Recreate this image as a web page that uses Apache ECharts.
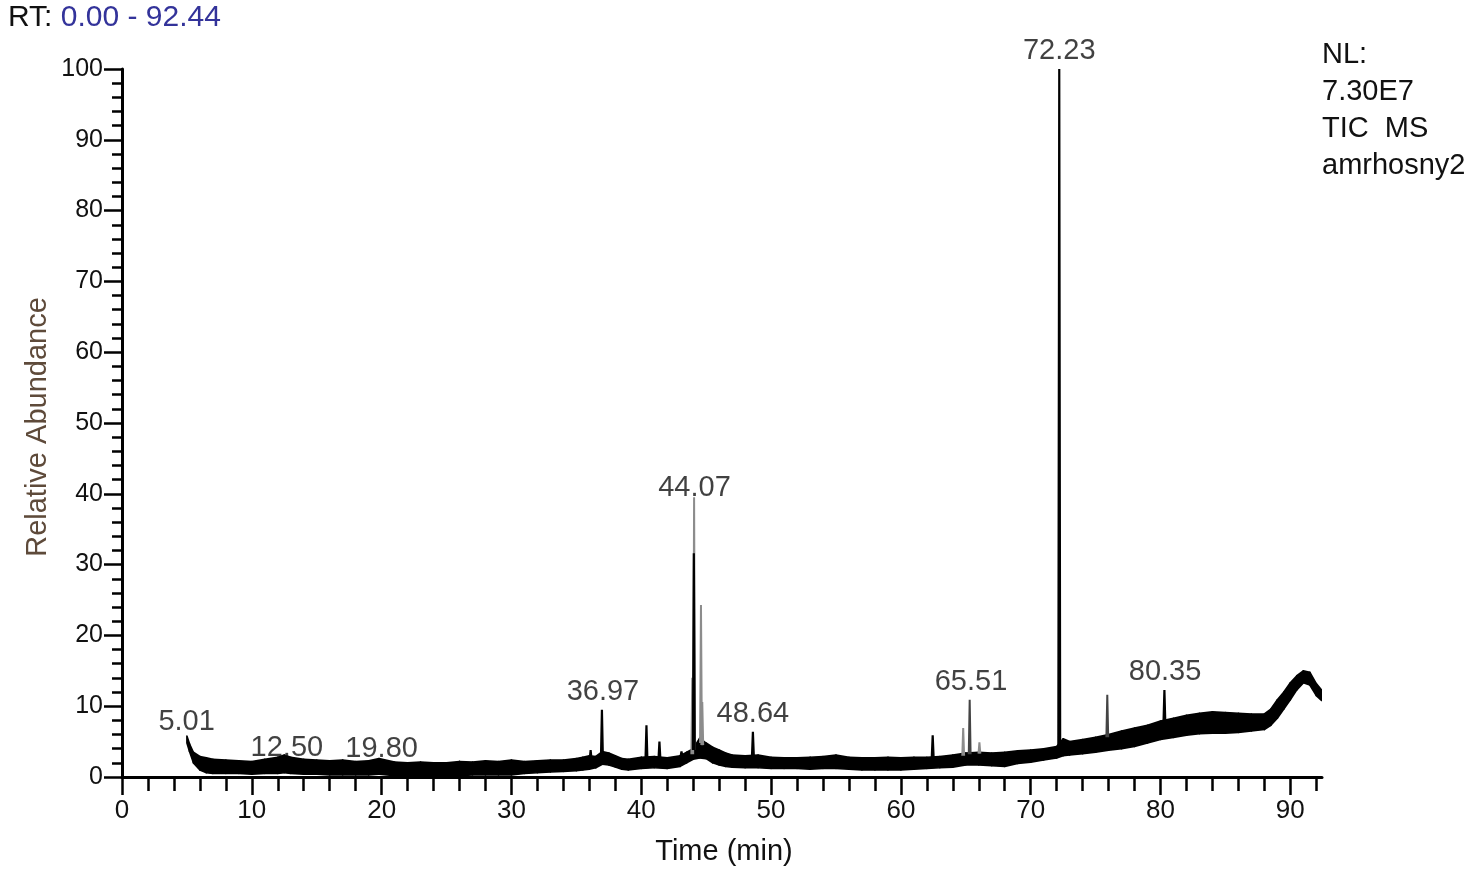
<!DOCTYPE html>
<html>
<head>
<meta charset="utf-8">
<script src="https://cdn.jsdelivr.net/npm/echarts@6/dist/echarts.min.js"></script>
<style>html,body{margin:0;padding:0;background:#fff}#c{width:1477px;height:876px}</style>
</head>
<body>
<div id="c"></div>
<script>
// ---- Data ----
// Baseline noise band (time in min, lower and upper edge of the black trace band, % relative abundance)
const bandTime = [5.0,5.2,5.5,6,6.5,7,8,9,10,11,12,12.5,13,14,15,16,17,18,19,19.8,
  21,22,23,24,25,26,27,28,29,30,31,32,33,34,35,35.5,36,36.5,37,37.5,
  38,38.5,39,40,41,42,43,43.5,44,44.5,45,45.5,46,46.5,47,48,49,50,51,52,
  53,54,55,56,57,58,59,60,61,62,63,64,65,66,67,68,69,70,71,72,
  72.5,73,74,75,76,77,78,79,80,81,82,83,84,85,86,87,88,88.5,89,89.5,
  90,90.5,91,91.5,92,92.4];
const bandLow = [4.8,3.6,2.0,1.0,0.6,0.5,0.5,0.5,0.4,0.5,0.5,0.6,0.5,0.4,0.4,0.3,0.3,0.3,0.3,0.4,
  0.2,0.2,0.2,0.2,0.2,0.2,0.3,0.3,0.3,0.3,0.5,0.6,0.7,0.8,0.9,1.0,1.1,1.3,1.8,1.7,
  1.4,1.1,1.0,1.2,1.3,1.2,1.5,2.0,2.5,2.7,2.6,2.0,1.7,1.5,1.4,1.3,1.3,1.2,1.2,1.2,
  1.1,1.2,1.2,1.1,1.0,1.0,1.0,1.0,1.1,1.2,1.3,1.4,1.7,1.7,1.6,1.5,1.9,2.1,2.4,2.7,
  3.0,3.1,3.3,3.5,3.8,4.0,4.3,4.8,5.3,5.6,5.9,6.1,6.2,6.2,6.3,6.5,6.7,7.3,8.3,9.6,
  10.9,12.3,13.3,13.0,11.5,10.8];
const bandHigh = [5.8,4.7,3.5,2.9,2.7,2.5,2.4,2.3,2.2,2.5,2.8,3.1,2.8,2.5,2.4,2.3,2.4,2.2,2.3,2.6,
  2.1,2.0,2.1,2.0,2.0,2.2,2.1,2.3,2.2,2.4,2.2,2.3,2.4,2.4,2.6,2.8,3.0,2.9,3.6,3.4,
  3.0,2.6,2.5,2.8,2.9,2.7,3.0,3.5,4.0,5.5,4.8,4.2,3.8,3.4,3.1,3.0,3.1,2.8,2.7,2.7,
  2.8,2.9,3.1,2.8,2.7,2.7,2.8,2.7,2.8,2.8,2.9,3.1,3.4,3.5,3.4,3.5,3.7,3.8,4.0,4.3,
  5.4,5.0,5.3,5.6,6.0,6.5,6.9,7.3,7.9,8.3,8.7,9.0,9.2,9.1,9.0,8.9,8.9,9.6,10.9,12.0,
  13.3,14.3,15.0,14.8,13.2,12.3];

// Sharp peaks: apex time, apex height, height at foot
const blackPeakTime = [36.1, 36.97, 40.4, 41.4, 43.1, 44.05, 48.6, 62.45, 72.2, 80.3];
const blackPeakTop  = [3.8, 9.5, 7.3, 5.0, 3.6, 31.6, 6.4, 5.9, 100, 12.3];
const blackPeakBase = [2.5, 3.0, 2.6, 2.6, 2.9, 3.8, 3.0, 2.8, 4.3, 7.6];

const darkPeakTime = [65.3, 75.9];
const darkPeakTop  = [10.9, 11.6];
const darkPeakBase = [3.2, 5.6];

const grayPeakTime = [43.93, 44.07, 44.6, 44.7, 64.8, 66.05];
const grayPeakTop  = [14.0, 39.5, 24.3, 10.6, 6.9, 4.9];
const grayPeakBase = [3.2, 3.8, 4.8, 4.5, 3.0, 3.3];

// Peak annotations
const labelText  = ['5.01','12.50','19.80','36.97','44.07','48.64','65.51','72.23','80.35'];
const labelTime  = [4.98, 12.7, 20.0, 37.05, 44.1, 48.6, 65.4, 72.2, 80.35];
const labelValue = [5.8, 3.2, 2.6, 9.5, 39.5, 6.4, 10.9, 100, 12.3];

// Axes
const xMajorTicks = [0,10,20,30,40,50,60,70,80,90];
const xMinorTicks = [2,4,6,8,12,14,16,18,22,24,26,28,32,34,36,38,42,44,46,48,52,54,56,58,62,64,66,68,72,74,76,78,82,84,86,88,92];
const xMin = 0, xMax = 92.44;
const yMin = 0, yMax = 100;

// ---- Styling ----
const FONT = "'Liberation Sans', Arial, sans-serif";
const TXT = '#111';
const labelShiftPx = [4, 12, 8, 0, 9, 0, 0, 0, 0]; // vertical nudge of annotation text

function peakData(times, tops, bases) {
  const d = [];
  times.forEach((t, i) => {
    d.push([t - 0.07, bases[i]], [t, tops[i]], [t + 0.07, bases[i]], [t + 0.07, '-']);
  });
  return d;
}

const bandSegments = [];
for (let i = 0; i < bandTime.length - 1; i++) {
  bandSegments.push([bandTime[i], bandLow[i], bandHigh[i], bandTime[i + 1], bandLow[i + 1], bandHigh[i + 1]]);
}

const chart = echarts.init(document.getElementById('c'), null, {renderer: 'canvas'});
const option = {
  animation: false,
  backgroundColor: '#fff',
  grid: {left: 122, top: 69, width: 1200, height: 708, containLabel: false, outerBoundsMode: 'none'},
  xAxis: [{
    type: 'value', min: xMin, max: xMax, interval: 10, z: 6,
    axisLine: {show: true, onZero: false, lineStyle: {color: '#000', width: 3}},
    axisTick: {show: true, length: 18, lineStyle: {color: '#000', width: 2.5}, customValues: xMajorTicks},
    axisLabel: {show: true, margin: 21, fontSize: 26, color: TXT, fontFamily: FONT, customValues: xMajorTicks},
    splitLine: {show: false}
  }, {
    type: 'value', min: xMin, max: xMax, interval: 2, position: 'bottom', z: 6,
    axisLine: {show: false},
    axisTick: {show: true, length: 14, lineStyle: {color: '#000', width: 2.5}, customValues: xMinorTicks},
    axisLabel: {show: false},
    splitLine: {show: false}
  }],
  yAxis: {
    type: 'value', min: yMin, max: yMax, interval: 10, z: 6,
    axisLine: {show: true, lineStyle: {color: '#000', width: 3}},
    axisTick: {show: true, length: 18, lineStyle: {color: '#000', width: 2.5}},
    minorTick: {show: true, splitNumber: 5, length: 10, lineStyle: {color: '#000', width: 2.5}},
    axisLabel: {margin: 19, fontSize: 25, color: TXT, fontFamily: FONT},
    splitLine: {show: false}
  },
  graphic: [
    {type: 'text', left: 8, top: 3, style: {
      text: '{a|RT: }{b|0.00 - 92.44}',
      rich: {
        a: {fill: TXT, fontSize: 30, fontFamily: FONT},
        b: {fill: '#33339a', fontSize: 30, fontFamily: FONT}
      }
    }},
    {type: 'text', left: 1322, top: 36, style: {
      text: 'NL:\n7.30E7\nTIC  MS\namrhosny2', fill: TXT, fontSize: 29, lineHeight: 37, fontFamily: FONT
    }},
    {type: 'text', x: 38, y: 427, rotation: Math.PI / 2, style: {
      text: 'Relative Abundance', fill: '#5e4a3a', fontSize: 29, fontFamily: FONT, align: 'center', verticalAlign: 'middle'
    }},
    {type: 'text', x: 724, y: 852, style: {
      text: 'Time (min)', fill: TXT, fontSize: 29, fontFamily: FONT, align: 'center', verticalAlign: 'middle'
    }}
  ],
  series: [
    {type: 'custom', name: 'baseline', z: 2, silent: true, clip: true,
     data: bandSegments,
     encode: {x: [0, 3], y: [1, 2, 4, 5]},
     renderItem: function (params, api) {
       const a = api.coord([api.value(0), api.value(2)]);
       const b = api.coord([api.value(3), api.value(5)]);
       const c = api.coord([api.value(3), api.value(4)]);
       const d = api.coord([api.value(0), api.value(1)]);
       return {type: 'polygon', shape: {points: [a, b, c, d]},
               style: {fill: '#000', stroke: '#000', lineWidth: 1.6, lineJoin: 'round'}};
     }},
    {type: 'line', name: 'grayPeaks', z: 3, symbol: 'none', silent: true, connectNulls: false,
     data: peakData(grayPeakTime, grayPeakTop, grayPeakBase),
     lineStyle: {color: '#8c8c8c', width: 2}},
    {type: 'line', name: 'darkPeaks', z: 3, symbol: 'none', silent: true, connectNulls: false,
     data: peakData(darkPeakTime, darkPeakTop, darkPeakBase),
     lineStyle: {color: '#444', width: 2}},
    {type: 'line', name: 'blackPeaks', z: 4, symbol: 'none', silent: true, connectNulls: false,
     data: peakData(blackPeakTime, blackPeakTop, blackPeakBase),
     lineStyle: {color: '#000', width: 2.2}},
    {type: 'scatter', name: 'labels', z: 7, silent: true, symbolSize: 1,
     itemStyle: {color: 'transparent'},
     data: labelTime.map((t, i) => ({value: [t, labelValue[i]], name: labelText[i],
                                     label: {offset: [0, labelShiftPx[i]]}})),
     label: {show: true, position: 'top', distance: 3, formatter: '{b}', fontSize: 29, color: TXT, fontFamily: FONT}}
  ]
};
chart.setOption(option);
</script>
</body>
</html>
